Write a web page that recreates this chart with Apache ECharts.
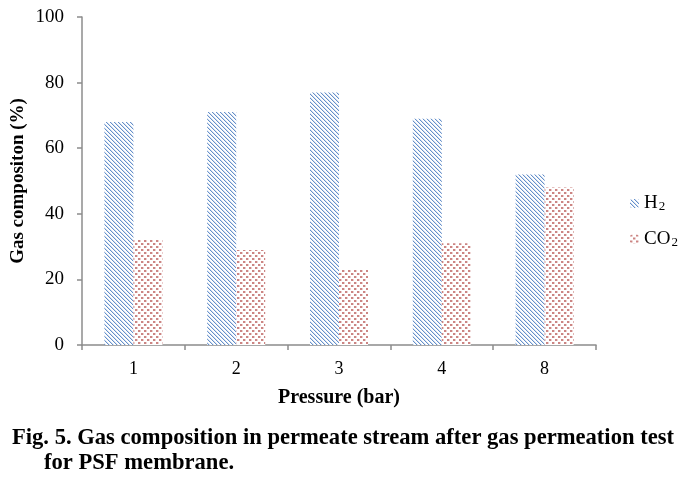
<!DOCTYPE html>
<html>
<head>
<meta charset="utf-8">
<script src="https://cdn.jsdelivr.net/npm/echarts@6/dist/echarts.min.js"></script>
<style>
html,body{margin:0;padding:0;background:#fff;}
#chart{width:698px;height:482px;}
</style>
</head>
<body>
<div id="chart"></div>
<script>
const categories = ['1', '2', '3', '4', '8'];
const h2Values = [68, 71, 77, 69, 52];
const co2Values = [32, 29, 23, 31, 48];
const seriesNames = ['H2', 'CO2'];
const yTicks = { min: 0, max: 100, interval: 20 };
const yAxisTitle = 'Gas compositon (%)';
const xAxisTitle = 'Pressure (bar)';
const captionLine1 = 'Fig. 5. Gas composition in permeate stream after gas permeation test';
const captionLine2 = 'for PSF membrane.';

const SERIF = "'Liberation Serif','Times New Roman',serif";

function makeHatch() {
  const c = document.createElement('canvas');
  c.width = 4; c.height = 4;
  const g = c.getContext('2d');
  g.fillStyle = '#ffffff';
  g.fillRect(0, 0, 4, 4);
  for (let i = 0; i < 4; i++) {
    g.fillStyle = '#6590ca';
    g.fillRect(i, i, 1, 1);
    g.fillStyle = '#d6e1f1';
    g.fillRect((i + 1) % 4, i, 1, 1);
  }
  return c;
}
function makeDots() {
  const c = document.createElement('canvas');
  c.width = 6; c.height = 6;
  const g = c.getContext('2d');
  g.fillStyle = '#ffffff';
  g.fillRect(0, 0, 6, 6);
  g.fillStyle = '#cc8583';
  g.fillRect(0, 0, 2, 2);
  g.fillRect(3, 3, 2, 2);
  g.fillStyle = '#ecd0cf';
  g.fillRect(2, 0, 1, 2);
  g.fillRect(5, 3, 1, 2);
  return c;
}
function measure(text, font) {
  const c = document.createElement('canvas').getContext('2d');
  c.font = font;
  return c.measureText(text).width;
}

const capFont = "bold 23px " + SERIF;
const cap1W = measure(captionLine1, capFont);
const capScale = 662 / cap1W;

const chart = echarts.init(document.getElementById('chart'), null, { renderer: 'canvas' });
const axisColor = '#8c8c8c';

chart.setOption({
  animation: false,
  backgroundColor: '#ffffff',
  grid: { left: 82, right: 102, top: 17, bottom: 137, containLabel: false },
  legend: {
    orient: 'vertical',
    left: 625,
    top: 189,
    itemWidth: 9,
    itemHeight: 9,
    itemGap: 16,
    data: seriesNames,
    formatter: function (name) {
      return name === 'H2' ? '{n|H}{s|2}' : '{n|CO}{s|2}';
    },
    textStyle: {
      fontFamily: SERIF, color: '#000',
      rich: {
        n: { fontFamily: SERIF, fontSize: 19, lineHeight: 20, color: '#000' },
        s: { fontFamily: SERIF, fontSize: 13, lineHeight: 12, verticalAlign: 'bottom', color: '#000', padding: [0, 0, 0, 1] }
      }
    }
  },
  xAxis: {
    type: 'category',
    data: categories,
    boundaryGap: true,
    axisLine: { show: true, lineStyle: { color: axisColor, width: 1.5 } },
    axisTick: { show: true, length: 5, lineStyle: { color: axisColor, width: 1.5 } },
    axisLabel: { fontFamily: SERIF, fontSize: 18, color: '#000', margin: 15 },
    splitLine: { show: false }
  },
  yAxis: {
    type: 'value',
    min: yTicks.min,
    max: yTicks.max,
    interval: yTicks.interval,
    axisLine: { show: true, lineStyle: { color: axisColor, width: 1.5 } },
    axisTick: { show: true, length: 5, lineStyle: { color: axisColor, width: 1.5 } },
    axisLabel: { fontFamily: SERIF, fontSize: 19, color: '#000', margin: 18 },
    splitLine: { show: false }
  },
  series: [
    {
      name: seriesNames[0], type: 'bar', data: h2Values,
      barWidth: 29, barGap: '0%',
      itemStyle: { color: { image: makeHatch(), repeat: 'repeat' } }
    },
    {
      name: seriesNames[1], type: 'bar', data: co2Values,
      barWidth: 29, barGap: '0%',
      itemStyle: { color: { image: makeDots(), repeat: 'repeat' } }
    }
  ],
  graphic: [
    {
      type: 'text', x: 18, y: 181, rotation: Math.PI / 2,
      style: { text: yAxisTitle, font: "bold 19px " + SERIF, fill: '#000', textAlign: 'center', textVerticalAlign: 'middle' }
    },
    {
      type: 'text', x: 339, y: 398,
      style: { text: xAxisTitle, font: "bold 20px " + SERIF, fill: '#000', textAlign: 'center', textVerticalAlign: 'middle' }
    },
    {
      type: 'text', x: 12, y: 438, scaleX: capScale,
      style: { text: captionLine1, font: capFont, fill: '#000', textAlign: 'left', textVerticalAlign: 'middle' }
    },
    {
      type: 'text', x: 44, y: 463, scaleX: capScale,
      style: { text: captionLine2, font: capFont, fill: '#000', textAlign: 'left', textVerticalAlign: 'middle' }
    }
  ]
});
</script>
</body>
</html>
